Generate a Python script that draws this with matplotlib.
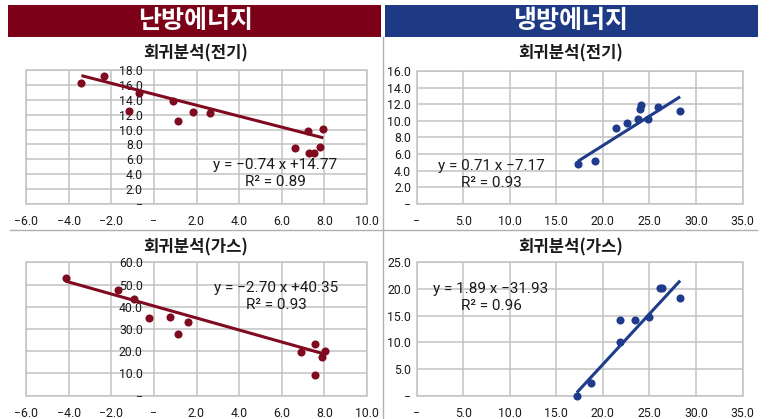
import numpy as np
import matplotlib
matplotlib.use("Agg")
import matplotlib.pyplot as plt
from matplotlib.patches import Rectangle
from matplotlib.lines import Line2D

plt.rcParams['font.family'] = ['Roboto', 'Noto Sans CJK KR', 'DejaVu Sans']

# ---- data -------------------------------------------------------------
section_titles = ["난방에너지", "냉방에너지"]
panel_titles = ["회귀분석(전기)", "회귀분석(가스)"]

heat_elec_x = [-3.40, -2.34, -1.19, -0.72, 0.89, 1.12, 1.83, 2.61, 6.60, 7.25, 7.26, 7.53, 7.78, 7.95]
heat_elec_y = [16.3, 17.2, 12.5, 15.0, 13.9, 11.2, 12.4, 12.2, 7.5, 9.8, 6.9, 6.8, 7.6, 10.1]

heat_gas_x = [-4.14, -1.67, -0.95, -0.23, 0.77, 1.12, 1.59, 6.90, 7.57, 7.57, 7.89, 8.04]
heat_gas_y = [53.1, 47.4, 43.4, 34.8, 35.3, 27.6, 33.3, 19.7, 23.1, 9.3, 17.3, 20.0]

cool_elec_x = [17.32, 19.18, 21.43, 22.57, 23.79, 24.00, 24.05, 24.90, 25.97, 28.30]
cool_elec_y = [4.8, 5.2, 9.15, 9.75, 10.2, 11.5, 11.9, 10.2, 11.7, 11.2]

cool_gas_x = [17.2, 18.7, 21.8, 21.8, 23.4, 25.0, 26.1, 26.4, 28.3]
cool_gas_y = [0.0, 2.4, 10.0, 14.2, 14.2, 14.7, 20.1, 20.1, 18.4]

# trendline coefficients (slope, intercept) and R^2
heat_elec_fit = (-0.74, 14.77, 0.89)
heat_gas_fit = (-2.70, 40.35, 0.93)
cool_elec_fit = (0.71, -7.17, 0.93)
cool_gas_fit = (1.89, -31.93, 0.96)

heat_xticks = [-6, -4, -2, 0, 2, 4, 6, 8, 10]
cool_xticks = [0, 5, 10, 15, 20, 25, 30, 35]
heat_elec_yticks = [0, 2, 4, 6, 8, 10, 12, 14, 16, 18]
heat_gas_yticks = [0, 10, 20, 30, 40, 50, 60]
cool_elec_yticks = [0, 2, 4, 6, 8, 10, 12, 14, 16]
cool_gas_yticks = [0, 5, 10, 15, 20, 25]

# ---- styling ----------------------------------------------------------
W, H = 770, 419
RED_HEAD = '#7b0018'
RED = '#800a20'
BLUE_HEAD = '#1e3a85'
BLUE = '#1f3c8c'
GRID = '#c2c2c2'
SEP = '#b0b0b0'
TXT = '#1a1a1a'

fig = plt.figure(figsize=(W / 100, H / 100), dpi=100)


def px_rect(l, t, r, b):
    return [l / W, 1 - b / H, (r - l) / W, (b - t) / H]


def fmt(v):
    if v == 0:
        return '−'
    return f"{v:.1f}".replace('-', '−')


def fig_text(x, y, s, **kw):
    fig.text(x / W, 1 - y / H, s, **kw)


# section headers
for (l, r), color, title, cx in [((8, 381), RED_HEAD, section_titles[0], 196),
                                 ((385, 758), BLUE_HEAD, section_titles[1], 571)]:
    fig.add_artist(Rectangle((l / W, 1 - 37 / H), (r - l) / W, 32 / H,
                             transform=fig.transFigure, color=color, lw=0))
    fig_text(cx, 21.5, title, color='white', fontsize=18, fontweight='bold',
             family=['Noto Sans CJK KR'], ha='center', va='center')

# separators
fig.add_artist(Line2D([383 / W, 383 / W], [0, 1 - 37 / H], transform=fig.transFigure,
                      color=SEP, lw=1.0))
fig.add_artist(Line2D([10 / W, 757 / W], [1 - 230 / H, 1 - 230 / H],
                      transform=fig.transFigure, color=SEP, lw=1.0))

panels = [
    # rect, x, y, fit, color, xlim, xticks, ylim, yticks, title, title pos, eq pos, y-axis at zero
    (px_rect(26, 70.3, 367, 203.7), heat_elec_x, heat_elec_y, heat_elec_fit, RED,
     (-6, 10), heat_xticks, (0, 18), heat_elec_yticks, panel_titles[0], (196, 53), (275.5, 165.3), True),
    (px_rect(26, 262.3, 367, 395.7), heat_gas_x, heat_gas_y, heat_gas_fit, RED,
     (-6, 10), heat_xticks, (0, 60), heat_gas_yticks, panel_titles[1], (196, 247), (276, 288.3), True),
    (px_rect(416.7, 71.3, 742.5, 203.7), cool_elec_x, cool_elec_y, cool_elec_fit, BLUE,
     (0, 35), cool_xticks, (0, 16), cool_elec_yticks, panel_titles[0], (571, 53), (491, 166), False),
    (px_rect(416.7, 262.3, 742.5, 395.7), cool_gas_x, cool_gas_y, cool_gas_fit, BLUE,
     (0, 35), cool_xticks, (0, 25), cool_gas_yticks, panel_titles[1], (571, 247), (491, 289.3), False),
]

for (rect, xs, ys, fit, color, xlim, xticks, ylim, yticks, title, tpos, epos, ycross) in panels:
    ax = fig.add_axes(rect)
    ax.set_xlim(*xlim)
    ax.set_ylim(*ylim)
    ax.set_xticks(xticks)
    ax.set_xticklabels([fmt(v) for v in xticks])
    ax.set_yticks(yticks)
    ax.set_yticklabels([fmt(v) for v in yticks])
    ax.grid(True, color=GRID, lw=1.1)
    ax.set_axisbelow(True)
    for sp in ax.spines.values():
        sp.set_visible(False)
    ax.add_patch(Rectangle((0, 0), 1, 1, transform=ax.transAxes, fill=False,
                           ec=GRID, lw=1.1, clip_on=False, zorder=0.5))
    if ycross:
        ax.spines['left'].set_position(('data', 0))
        ax.tick_params(axis='y', pad=8)
    else:
        ax.tick_params(axis='y', pad=4)
    ax.tick_params(length=0, labelsize=8.8, colors=TXT)
    ax.tick_params(axis='x', pad=8)

    slope, intercept, r2 = fit
    lx = np.array([min(xs), max(xs)])
    ax.plot(lx, slope * lx + intercept, color=color, lw=2.2, zorder=2,
            solid_capstyle='butt')
    ax.scatter(xs, ys, s=34, color=color, zorder=3, clip_on=False, linewidths=0)

    fig_text(tpos[0], tpos[1], title, fontsize=12, fontweight='bold',
             family=['Noto Sans CJK KR'], ha='center', va='center', color=TXT)
    eq = f"y = {slope:.2f} x {'+' if intercept >= 0 else ''}{intercept:.2f}".replace('-', '−')
    fig_text(epos[0], epos[1], eq, fontsize=11, ha='center', va='center', color=TXT)
    fig_text(epos[0], epos[1] + 17, f"R² = {r2:.2f}", fontsize=11, ha='center',
             va='center', color=TXT)

fig.savefig('out.png', dpi=100, facecolor='white')
